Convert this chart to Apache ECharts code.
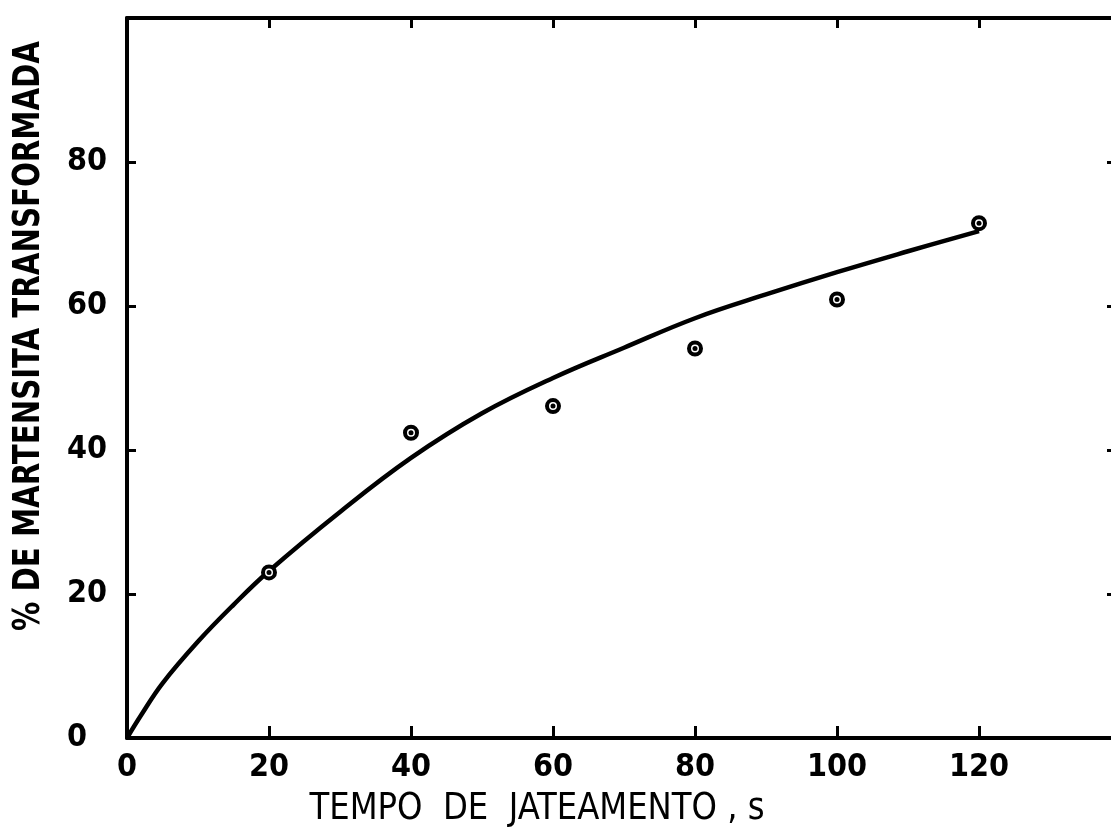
<!DOCTYPE html>
<html>
<head>
<meta charset="utf-8">
<script src="https://cdn.jsdelivr.net/npm/echarts@6/dist/echarts.min.js"></script>
<style>
  html, body { margin: 0; padding: 0; background: #fff; }
  #main { width: 1111px; height: 836px; }
</style>
</head>
<body>
<div id="main"></div>
<script>
// pontos medidos (tempo de jateamento, % martensita)
var expTime = [20, 40, 60, 80, 100, 120]
var expPct = [23, 42.4, 46.1, 54.1, 60.9, 71.5]

// curva desenhada a mao
var fitTime = [0, 2, 5, 10, 15, 20, 30, 40, 50, 60, 70, 80, 90, 100, 110, 120]
var fitPct = [0, 3.2, 7.6, 13.4, 18.5, 23.2, 31.4, 38.9, 45.1, 50, 54.2, 58.3, 61.6, 64.7, 67.6, 70.4]

var xTicks = [0, 20, 40, 60, 80, 100, 120, 140]
var yTicks = [0, 20, 40, 60, 80, 100]

var xName = 'TEMPO  DE  JATEAMENTO , s'
var yName = '% DE MARTENSITA TRANSFORMADA'

var fitData = fitTime.map(function (t, i) { return [t, fitPct[i]] })
var expData = expTime.map(function (t, i) { return [t, expPct[i]] })

var FONT = '"DejaVu Sans Condensed", "DejaVu Sans", sans-serif'

var labelFont = {
  color: '#000',
  fontFamily: FONT,
  fontWeight: 'bold',
  fontSize: 32
}

// largura do texto, para apertar os titulos dos eixos como no original
function textWidth (txt, font) {
  var ctx = document.createElement('canvas').getContext('2d')
  ctx.font = font
  return ctx.measureText(txt).width
}

var xNameFont = 'normal 38px ' + FONT
var yNameFont = 'bold 37px ' + FONT
var xNameScale = 455 / textWidth(xName, xNameFont)
var yNameScale = 590 / textWidth(yName, yNameFont)

var chart = echarts.init(document.getElementById('main'))

chart.setOption({
  backgroundColor: '#fff',
  animation: false,
  grid: {
    left: 127,
    top: 18,
    bottom: 98,
    right: -10,
    outerBoundsMode: 'none'
  },
  xAxis: [
    {
      type: 'value',
      position: 'bottom',
      min: xTicks[0],
      max: xTicks[xTicks.length - 1],
      interval: 20,
      axisLine: { show: true, onZero: false, lineStyle: { color: '#000', width: 4 } },
      axisTick: { show: true, inside: true, length: 12, lineStyle: { color: '#000', width: 3 } },
      axisLabel: Object.assign({ margin: 14, showMaxLabel: false }, labelFont),
      splitLine: { show: false }
    },
    {
      type: 'value',
      position: 'top',
      min: xTicks[0],
      max: xTicks[xTicks.length - 1],
      interval: 20,
      axisLine: { show: true, onZero: false, lineStyle: { color: '#000', width: 4 } },
      axisTick: { show: true, inside: true, length: 10, lineStyle: { color: '#000', width: 3 } },
      axisLabel: { show: false },
      splitLine: { show: false }
    }
  ],
  yAxis: [
    {
      type: 'value',
      position: 'left',
      min: yTicks[0],
      max: yTicks[yTicks.length - 1],
      interval: 20,
      axisLine: { show: true, onZero: false, lineStyle: { color: '#000', width: 4 } },
      axisTick: { show: true, inside: true, length: 9, lineStyle: { color: '#000', width: 3 } },
      axisLabel: Object.assign({ margin: 60, align: 'left', showMaxLabel: false }, labelFont),
      splitLine: { show: false }
    },
    {
      type: 'value',
      position: 'right',
      min: yTicks[0],
      max: yTicks[yTicks.length - 1],
      interval: 20,
      axisLine: { show: true, onZero: false, lineStyle: { color: '#000', width: 4 } },
      axisTick: { show: true, inside: true, length: 14, lineStyle: { color: '#000', width: 3 } },
      axisLabel: { show: false },
      splitLine: { show: false }
    }
  ],
  graphic: [
    {
      type: 'text',
      x: 537,
      y: 809,
      scaleX: xNameScale,
      style: {
        text: xName,
        fill: '#000',
        font: xNameFont,
        textAlign: 'center',
        textVerticalAlign: 'middle'
      }
    },
    {
      type: 'text',
      x: 29,
      y: 336,
      rotation: Math.PI / 2,
      scaleX: yNameScale,
      style: {
        text: yName,
        fill: '#000',
        font: yNameFont,
        textAlign: 'center',
        textVerticalAlign: 'middle'
      }
    }
  ],
  series: [
    {
      // curva
      type: 'line',
      data: fitData,
      smooth: 0.4,
      showSymbol: false,
      symbol: 'none',
      lineStyle: { color: '#000', width: 4.5 },
      z: 2
    },
    {
      // anel dos pontos
      type: 'scatter',
      data: expData,
      symbol: 'circle',
      symbolSize: 12,
      itemStyle: { color: '#fff', borderColor: '#000', borderWidth: 4, opacity: 1 },
      z: 3
    },
    {
      // ponto central
      type: 'scatter',
      data: expData,
      symbol: 'circle',
      symbolSize: 5,
      itemStyle: { color: '#000', opacity: 1 },
      z: 4
    }
  ]
})
</script>
</body>
</html>
